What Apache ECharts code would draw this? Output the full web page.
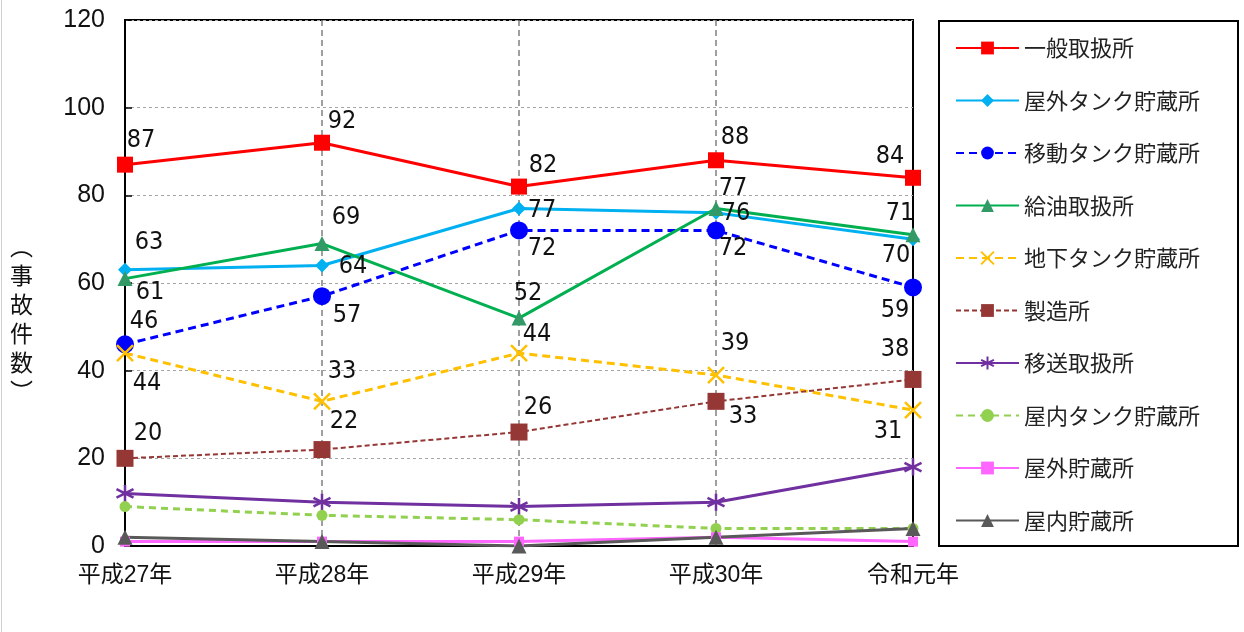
<!DOCTYPE html>
<html>
<head>
<meta charset="utf-8">
<script src="https://cdn.jsdelivr.net/npm/echarts@6/dist/echarts.min.js"></script>
<style>
  html, body { margin: 0; padding: 0; background: #fff; }
  #chart { width: 1244px; height: 632px; }
</style>
</head>
<body>
<div id="chart"></div>
<script>
const years = ['平成27年', '平成28年', '平成29年', '平成30年', '令和元年'];
const yTicks = [0, 20, 40, 60, 80, 100, 120];

const ippan = [87, 92, 82, 88, 84];        // 一般取扱所
const okugaiTank = [63, 64, 77, 76, 70];   // 屋外タンク貯蔵所
const idoTank = [46, 57, 72, 72, 59];      // 移動タンク貯蔵所
const kyuyu = [61, 69, 52, 77, 71];        // 給油取扱所
const chikaTank = [44, 33, 44, 39, 31];    // 地下タンク貯蔵所
const seizo = [20, 22, 26, 33, 38];        // 製造所
const isou = [12, 10, 9, 10, 18];          // 移送取扱所
const okunaiTank = [9, 7, 6, 4, 4];        // 屋内タンク貯蔵所
const okugai = [1, 1, 1, 2, 1];            // 屋外貯蔵所
const okunai = [2, 1, 0, 2, 4];            // 屋内貯蔵所

// label offsets (px from the point), as placed in the original
const labelOffsets = {
  '一般取扱所': [[16, -24], [20, -21], [24, -21], [19, -23], [-23, -21]],
  '屋外タンク貯蔵所': [[24, -27], [31, 1], [23, 2], [20, 1], [-17, 16]],
  '移動タンク貯蔵所': [[19, -23], [25, 19], [23, 18], [17, 18], [-18, 23]],
  '給油取扱所': [[25, 14], [24, -26], [9, -25], [17, -20], [-13, -21]],
  '地下タンク貯蔵所': [[22, 30], [20, -30], [18, -19], [19, -32], [-25, 21]],
  '製造所': [[23, -25], [22, -28], [19, -25], [27, 15], [-18, -30]]
};

const X_PATH = 'path://M0,0L10,10M10,0L0,10';
const STAR_PATH = 'path://M5,0L5,10M0.7,2.5L9.3,7.5M0.7,7.5L9.3,2.5';
const LABEL_FONT = '"Liberation Sans Narrow", "DejaVu Sans Condensed", "Roboto Condensed", "Liberation Sans", sans-serif';

function withLabels(name, values) {
  const offs = labelOffsets[name];
  return values.map((v, i) => ({ value: v, label: { offset: offs[i] } }));
}

function makeSeries(name, values, color, opts) {
  return {
    name: name,
    type: 'line',
    data: labelOffsets[name] ? withLabels(name, values) : values,
    symbol: opts.symbol,
    symbolSize: opts.size,
    showSymbol: true,
    lineStyle: { color: color, width: opts.width || 3, type: opts.dash || 'solid' },
    itemStyle: {
      color: opts.markerColor || color,
      borderColor: opts.markerColor || color,
      borderWidth: opts.stroke ? 2.5 : 0
    },
    label: {
      show: !!labelOffsets[name],
      position: 'inside',
      color: '#111',
      fontSize: 25,
      fontFamily: LABEL_FONT,
      align: 'center',
      verticalAlign: 'middle'
    },
    emphasis: { disabled: true },
    animation: false
  };
}

const seriesList = [
  makeSeries('一般取扱所', ippan, '#FF0000', { symbol: 'rect', size: 16 }),
  makeSeries('屋外タンク貯蔵所', okugaiTank, '#00B0F0', { symbol: 'diamond', size: 14 }),
  makeSeries('移動タンク貯蔵所', idoTank, '#0000FF', { symbol: 'circle', size: 18, dash: [8, 5] }),
  makeSeries('給油取扱所', kyuyu, '#00B050', { symbol: 'triangle', size: 15, markerColor: '#339966' }),
  makeSeries('地下タンク貯蔵所', chikaTank, '#FFC000', { symbol: X_PATH, size: 16, dash: [8, 5], stroke: true }),
  makeSeries('製造所', seizo, '#953735', { symbol: 'rect', size: 17, dash: [5, 3], width: 2 }),
  makeSeries('移送取扱所', isou, '#7030A0', { symbol: STAR_PATH, size: 17, stroke: true }),
  makeSeries('屋内タンク貯蔵所', okunaiTank, '#92D050', { symbol: 'circle', size: 11, dash: [7, 5] }),
  makeSeries('屋外貯蔵所', okugai, '#FF66FF', { symbol: 'rect', size: 10 }),
  makeSeries('屋内貯蔵所', okunai, '#595959', { symbol: 'triangle', size: 15 })
];

const chart = echarts.init(document.getElementById('chart'), null, { renderer: 'canvas' });

chart.setOption({
  backgroundColor: '#fff',
  animation: false,
  grid: {
    left: 125, right: 331, top: 20, bottom: 86,
    show: true, borderColor: '#000', borderWidth: 2
  },
  legend: {
    orient: 'vertical',
    left: 955,
    top: 37,
    padding: 0,
    itemWidth: 63,
    itemHeight: 16,
    itemGap: 30.5,
    data: seriesList.map(s => s.name),
    textStyle: {
      fontSize: 22,
      color: '#222',
      fontFamily: 'Noto Sans CJK JP',
      lineHeight: 22
    }
  },
  xAxis: {
    type: 'category',
    data: years,
    boundaryGap: false,
    axisLine: { lineStyle: { color: '#000', width: 2 } },
    axisTick: { show: false },
    axisLabel: {
      color: '#111',
      fontSize: 23,
      margin: 18,
      fontFamily: '"Liberation Sans", "Noto Sans CJK JP"'
    },
    splitLine: {
      show: true,
      interval: (i) => i > 0 && i < years.length - 1,
      lineStyle: { color: '#808080', type: [6, 4], width: 1.5 }
    }
  },
  yAxis: {
    type: 'value',
    min: yTicks[0],
    max: yTicks[yTicks.length - 1],
    interval: 20,
    axisLine: { show: true, lineStyle: { color: '#000', width: 2 } },
    axisTick: { show: true, inside: true, length: 7, lineStyle: { color: '#000', width: 1.5 } },
    axisLabel: {
      color: '#111',
      fontSize: 25,
      margin: 20,
      fontFamily: '"Liberation Sans"'
    },
    splitLine: {
      show: true,
      lineStyle: { color: '#A6A6A6', type: [3, 3], width: 1 }
    }
  },
  graphic: [
    {
      type: 'rect',
      shape: { x: 939, y: 21, width: 299, height: 525 },
      style: { fill: 'none', stroke: '#000', lineWidth: 2 },
      silent: true
    },
    {
      type: 'line',
      shape: { x1: 1.5, y1: 0, x2: 1.5, y2: 632 },
      style: { stroke: '#D0D0D0', lineWidth: 1 },
      silent: true
    },
    {
      type: 'text',
      left: 10,
      top: 232,
      style: {
        text: '︵\n事\n故\n件\n数\n︶',
        fontSize: 23,
        lineHeight: 29,
        fill: '#111',
        align: 'center',
        fontFamily: 'Noto Sans CJK JP'
      },
      silent: true
    }
  ],
  series: seriesList
});
</script>
</body>
</html>
